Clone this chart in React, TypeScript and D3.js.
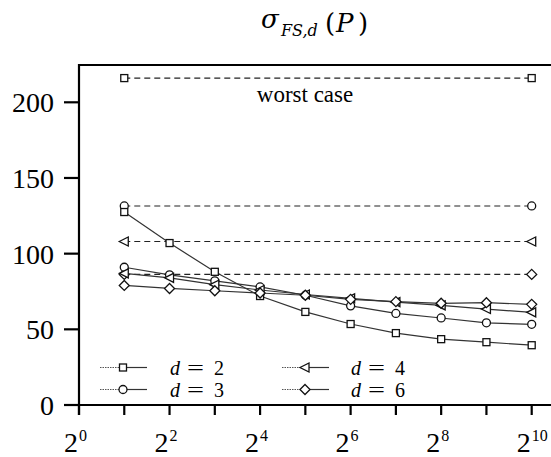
import React, { useEffect } from "react";
import * as d3 from "d3";

const exps = [1, 2, 3, 4, 5, 6, 7, 8, 9, 10];
const d2 = [127.5, 107, 88, 72, 61.5, 53.5, 47.5, 43.5, 41.5, 39.5];
const d3s = [91, 86, 82, 78, 72.5, 65.5, 60.5, 57.5, 54.3, 53.3];
const d4 = [87, 84, 79.5, 76, 73, 70.5, 68, 65.8, 63.4, 61.2];
const d6 = [79, 77, 75.5, 74, 72.5, 69.8, 68.3, 67.2, 67.6, 66.5];
const worst = [216, 131.5, 108, 86.3];
const seriesNames = ["2", "3", "4", "6"];
const markers = ["square", "circle", "triangle", "diamond"];
const yTicks = [0, 50, 100, 150, 200];
const xTickExps = [0, 1, 2, 3, 4, 5, 6, 7, 8, 9, 10];
const xLabelExps = [0, 2, 4, 6, 8, 10];

const W = 551;
const H = 457;
const L = 79;
const B = 405;
const T = 65;

const x = d3.scaleLinear().domain([0, 10]).range([79, 531.7]);
const y = d3.scaleLinear().domain([0, 200]).range([405, 102.3]);

const serif = "Liberation Serif, Times New Roman, serif";
const serif2 = "DejaVu Serif, serif";

function Marker({ type, cx, cy }: { type: string; cx: number; cy: number }) {
  const st = { fill: "white", stroke: "#111", strokeWidth: 1.3 };
  if (type === "square") return <rect x={cx - 3.5} y={cy - 3.5} width={7} height={7} {...st} />;
  if (type === "circle") return <circle cx={cx} cy={cy} r={4} {...st} />;
  if (type === "triangle")
    return <path d={`M${cx - 5},${cy} L${cx + 4},${cy - 4.5} L${cx + 4},${cy + 4.5} Z`} {...st} />;
  return <path d={`M${cx},${cy - 5} L${cx + 5},${cy} L${cx},${cy + 5} L${cx - 5},${cy} Z`} {...st} />;
}

export default function App() {
  useEffect(() => {
    document.body.style.margin = "0";
  }, []);
  const data = [d2, d3s, d4, d6];
  const line = d3
    .line<number>()
    .x((_, i) => x(exps[i]))
    .y((v) => y(v));
  const legend = [
    { lx: 100, tx: 170, yy: 367.5 },
    { lx: 100, tx: 170, yy: 389.5 },
    { lx: 282, tx: 351, yy: 367.5 },
    { lx: 282, tx: 351, yy: 389.5 },
  ];
  const ts = { fontFamily: serif };
  const ts2 = { fontFamily: serif2 };
  return (
    <svg width={W} height={H} style={{ display: "block", background: "white" }}>
      {/* title */}
      <text x={261} y={28} fontSize={26} fontStyle="italic" style={ts2}>σ</text>
      <text x={281} y={36} fontSize={16} fontStyle="italic" style={ts2}>FS,d</text>
      <text x={325} y={32} fontSize={26} style={ts2}>(</text>
      <text x={336} y={32} fontSize={26} fontStyle="italic" style={ts2}>P</text>
      <text x={358} y={32} fontSize={26} style={ts2}>)</text>

      {/* worst-case lines */}
      {worst.map((w, k) => (
        <g key={"w" + k}>
          <line x1={x(1)} x2={x(10)} y1={y(w)} y2={y(w)} stroke="#222" strokeWidth={1.1} strokeDasharray="6,4" />
          <Marker type={markers[k]} cx={x(1)} cy={y(w)} />
          <Marker type={markers[k]} cx={x(10)} cy={y(w)} />
        </g>
      ))}
      <text x={305} y={102} textAnchor="middle" fontSize={23} style={ts}>worst case</text>

      {/* series */}
      {data.map((s, k) => (
        <g key={"s" + k}>
          <path d={line(s) || ""} fill="none" stroke="#333" strokeWidth={1.2} />
          {s.map((v, i) => (
            <Marker key={i} type={markers[k]} cx={x(exps[i])} cy={y(v)} />
          ))}
        </g>
      ))}

      {/* axes */}
      <line x1={L} x2={W} y1={T} y2={T} stroke="#000" strokeWidth={2.2} />
      <line x1={L} x2={L} y1={T - 1} y2={B + 10} stroke="#000" strokeWidth={2.2} />
      <line x1={64} x2={W} y1={B} y2={B} stroke="#000" strokeWidth={2.2} />
      {yTicks.map((t) => (
        <g key={"yt" + t}>
          <line x1={64} x2={L} y1={y(t)} y2={y(t)} stroke="#000" strokeWidth={2.2} />
          <text x={54} y={y(t) + 10} textAnchor="end" fontSize={28} style={ts}>{t}</text>
        </g>
      ))}
      {xTickExps.map((e) => (
        <line key={"xt" + e} x1={x(e)} x2={x(e)} y1={B} y2={B + 10} stroke="#000" strokeWidth={2.2} />
      ))}
      {xLabelExps.map((e) => (
        <g key={"xl" + e}>
          <text x={x(e) - 1} y={451.5} textAnchor="end" fontSize={28} style={ts}>2</text>
          <text x={x(e)} y={441} textAnchor="start" fontSize={16} style={ts}>{e}</text>
        </g>
      ))}

      {/* legend */}
      {legend.map((g, k) => (
        <g key={"lg" + k}>
          <line x1={g.lx} x2={g.lx + 23} y1={g.yy} y2={g.yy} stroke="#555" strokeWidth={1.1} strokeDasharray="1.5,1" />
          <line x1={g.lx + 23} x2={g.lx + 47} y1={g.yy} y2={g.yy} stroke="#333" strokeWidth={1.2} />
          <Marker type={markers[k]} cx={g.lx + 23} cy={g.yy} />
          <text x={g.tx} y={g.yy + 7} fontSize={20} fontStyle="italic" style={ts}>d</text>
          <text x={g.tx + 17} y={g.yy + 7} fontSize={20} textLength={17} lengthAdjust="spacingAndGlyphs" style={ts}>=</text>
          <text x={g.tx + 44} y={g.yy + 7} fontSize={20} style={ts}>{seriesNames[k]}</text>
        </g>
      ))}
    </svg>
  );
}
